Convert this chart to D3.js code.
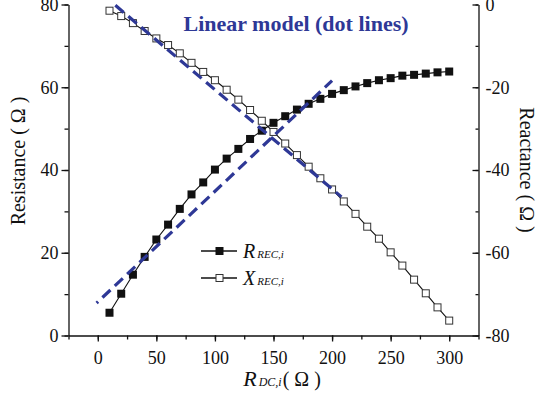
<!DOCTYPE html>
<html>
<head>
<meta charset="utf-8">
<script src="https://cdn.jsdelivr.net/npm/d3@7"></script>
<style>
  body { margin: 0; background: #fff; }
  svg { display: block; font-family: "Liberation Serif", "DejaVu Serif", serif; }
  .axis path, .axis line { stroke: #111; stroke-width: 1.3; }
  .axis text { font-size: 18px; fill: #111; font-family: "Liberation Serif", serif; }
</style>
</head>
<body>
<div id="chart"></div>
<script>
// R_DC,i values (x)
const rdc = [10, 20, 30, 40, 50, 60, 70, 80, 90, 100, 110, 120, 130, 140, 150,
             160, 170, 180, 190, 200, 210, 220, 230, 240, 250, 260, 270, 280, 290, 300];
// R_REC,i  (left axis, resistance)
const rRec = [5.5, 10.1, 14.7, 19.0, 23.2, 26.8, 30.6, 34.1, 37.0, 40.1, 42.75, 45.1, 47.5, 49.5, 51.4,
              53.0, 54.6, 56.0, 57.2, 58.4, 59.3, 60.2, 61.0, 61.7, 62.2, 62.8, 63.0, 63.3, 63.6, 63.8];
// X_REC,i  (right axis, reactance)
const xRec = [-1.5, -2.8, -4.5, -6.4, -8.2, -9.8, -11.8, -14.1, -16.3, -18.3, -20.6, -23.0, -25.5, -28.1, -30.8,
              -33.6, -36.4, -39.2, -42.0, -44.7, -47.6, -50.6, -53.7, -56.6, -59.9, -63.1, -66.5, -69.8, -73.2, -76.4];
// linear model (dashed) end points
const rModelX = [-1, 200], rModelY = [7.85, 61.6];
const xModelX = [15, 208], xModelY = [-0.2, -46.5];

const xTicks = [0, 50, 100, 150, 200, 250, 300];
const leftTicks = [0, 20, 40, 60, 80];
const rightTicks = [0, -20, -40, -60, -80];

const W = 539, H = 402;
const mLeft = 68.5, mRight = 478.5, mTop = 4.5, mBottom = 335.5;
const blue = "#2e3896";

const svg = d3.select("#chart").append("svg").attr("width", W).attr("height", H);

const x = d3.scaleLinear().domain([-25, 325]).range([mLeft, mRight]);
const yL = d3.scaleLinear().domain([0, 80]).range([mBottom, mTop]);
const yR = d3.scaleLinear().domain([-80, 0]).range([mBottom, mTop]);

// minor ticks first
svg.append("g").attr("class", "axis").attr("transform", "translate(0," + mBottom + ")")
    .call(d3.axisBottom(x).tickValues(d3.range(-25, 326, 25)).tickSize(4).tickFormat(""))
    .select(".domain").remove();
svg.append("g").attr("class", "axis").attr("transform", "translate(" + mLeft + ",0)")
    .call(d3.axisLeft(yL).tickValues(d3.range(0, 81, 10)).tickSize(4).tickFormat(""))
    .select(".domain").remove();
let rMinor = svg.append("g").attr("class", "axis").attr("transform", "translate(" + mRight + ",0)")
    .call(d3.axisLeft(yR).tickValues(d3.range(-80, 1, 10)).tickSize(3).tickFormat(""));
rMinor.select(".domain").remove();

// major axes
svg.append("g").attr("class", "axis").attr("transform", "translate(0," + mBottom + ")")
    .call(d3.axisBottom(x).tickValues(xTicks).tickSize(6).tickSizeOuter(0).tickPadding(6))
    .selectAll("text").attr("dy", "0.9em");
svg.append("g").attr("class", "axis").attr("transform", "translate(" + mLeft + ",0)")
    .call(d3.axisLeft(yL).tickValues(leftTicks).tickSize(7).tickSizeOuter(0).tickPadding(3));
let rAxis = svg.append("g").attr("class", "axis").attr("transform", "translate(" + mRight + ",0)")
    .call(d3.axisRight(yR).tickValues(rightTicks).tickSize(0).tickSizeOuter(0).tickPadding(7)
        .tickFormat(d => d === 0 ? "0" : "-" + Math.abs(d)));
// right major ticks point inward
rAxis.selectAll(".tick line").attr("x2", -6);

// series
const rData = rdc.map((d, i) => [d, rRec[i]]);
const xData = rdc.map((d, i) => [d, xRec[i]]);

svg.append("path").datum(rData)
    .attr("fill", "none").attr("stroke", "#111").attr("stroke-width", 1.1)
    .attr("d", d3.line().x(d => x(d[0])).y(d => yL(d[1])));
svg.append("path").datum(xData)
    .attr("fill", "none").attr("stroke", "#111").attr("stroke-width", 1.1)
    .attr("d", d3.line().x(d => x(d[0])).y(d => yR(d[1])));

const ms = 8;
svg.selectAll(".rpt").data(rData).enter().append("rect")
    .attr("x", d => x(d[0]) - ms / 2).attr("y", d => yL(d[1]) - ms / 2)
    .attr("width", ms).attr("height", ms).attr("fill", "#111");
svg.selectAll(".xpt").data(xData).enter().append("rect")
    .attr("x", d => x(d[0]) - ms / 2 + 0.5).attr("y", d => yR(d[1]) - ms / 2 + 0.5)
    .attr("width", ms - 1).attr("height", ms - 1)
    .attr("fill", "#fff").attr("stroke", "#333").attr("stroke-width", 1);

// linear model dashed lines
svg.append("line")
    .attr("x1", x(xModelX[0])).attr("y1", yR(xModelY[0]))
    .attr("x2", x(xModelX[1])).attr("y2", yR(xModelY[1]))
    .attr("stroke", blue).attr("stroke-width", 3.2).attr("stroke-dasharray", "11,6");
svg.append("line")
    .attr("x1", x(rModelX[0])).attr("y1", yL(rModelY[0]))
    .attr("x2", x(rModelX[1])).attr("y2", yL(rModelY[1]))
    .attr("stroke", blue).attr("stroke-width", 3.2).attr("stroke-dasharray", "11,6")
    .attr("stroke-dashoffset", 9);

// title
svg.append("text").attr("x", 296).attr("y", 31).attr("text-anchor", "middle")
    .attr("font-size", 22).attr("font-weight", "bold").attr("fill", blue)
    .text("Linear model (dot lines)");

// legend
const legend = [
  {name: "R", fill: "#111", stroke: "#111", y: 251},
  {name: "X", fill: "#fff", stroke: "#333", y: 278}
];
legend.forEach(l => {
  svg.append("line").attr("x1", 201).attr("x2", 237).attr("y1", l.y).attr("y2", l.y)
      .attr("stroke", "#111").attr("stroke-width", 1.3);
  svg.append("rect").attr("x", 216).attr("y", l.y - 3.5).attr("width", 7).attr("height", 7)
      .attr("fill", l.fill).attr("stroke", l.stroke).attr("stroke-width", 1);
  const t = svg.append("text").attr("x", 243).attr("y", l.y + 7).attr("font-size", 20)
      .attr("font-style", "italic").attr("fill", "#111");
  t.append("tspan").text(l.name);
  t.append("tspan").attr("font-size", 11).attr("dx", 2).text("REC,i");
});

// x axis title
const xt = svg.append("text").attr("x", 282).attr("y", 386).attr("text-anchor", "middle")
    .attr("fill", "#111").attr("font-size", 20);
xt.append("tspan").attr("font-style", "italic").attr("font-size", 22).text("R");
xt.append("tspan").attr("font-style", "italic").attr("font-size", 12).attr("dx", 2).text("DC,i");
xt.append("tspan").attr("dx", 1).text("( \u03A9 )");

// y axis titles
svg.append("text").attr("transform", "translate(25,161) rotate(-90)")
    .attr("text-anchor", "middle").attr("font-size", 20).attr("fill", "#111")
    .text("Resistance ( \u03A9 )");
svg.append("text").attr("transform", "translate(520,170) rotate(90)")
    .attr("text-anchor", "middle").attr("font-size", 20).attr("fill", "#111")
    .text("Reactance ( \u03A9 )");
</script>
</body>
</html>
